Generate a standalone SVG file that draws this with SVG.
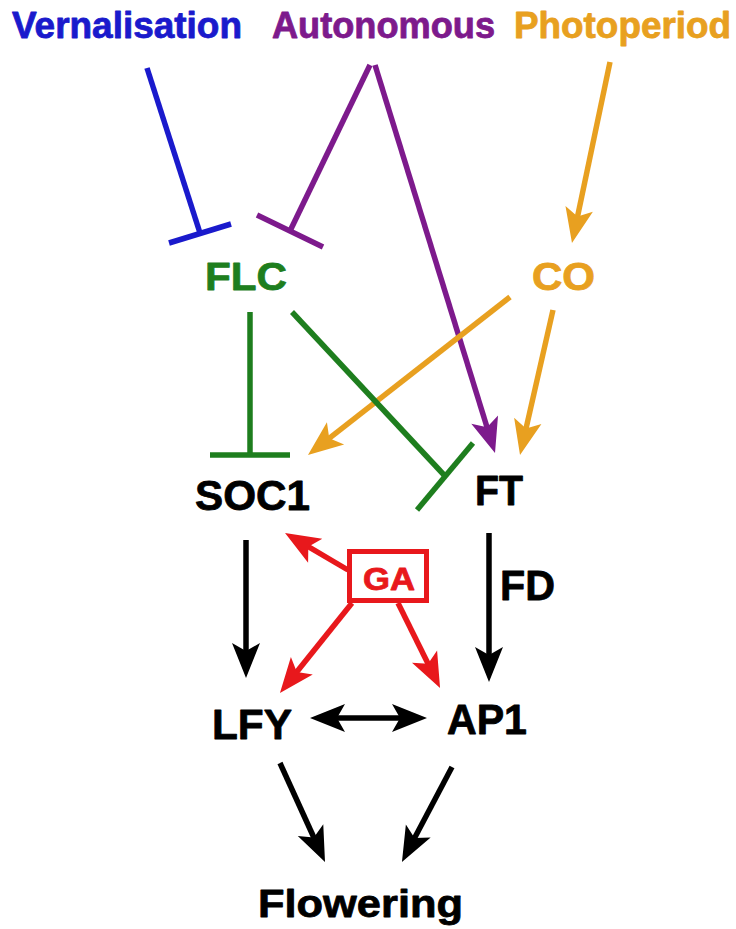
<svg xmlns="http://www.w3.org/2000/svg" width="736" height="929" viewBox="0 0 736 929">
  <style>
    text { font-family: "Liberation Sans", Arial, sans-serif; font-weight: bold; stroke-width: 0.8; stroke-linejoin: round; }
    .edge { fill: none; stroke-width: 5.5; stroke-linecap: butt; }
    .blue { stroke: #1a1acc; }
    .purple { stroke: #7d1a8c; }
    .orange { stroke: #e8a020; }
    .green { stroke: #1e7e1e; }
    .red { stroke: #e8181c; }
    .black { stroke: #000; }
  </style>
  <defs>
    <marker id="ah-purple" markerUnits="userSpaceOnUse" orient="auto" markerWidth="60" markerHeight="60" refX="0" refY="0" viewBox="-30 -30 60 60" overflow="visible">
      <path d="M22,0 L-13,-14 L-5,0 L-13,14 Z" fill="#7d1a8c"/>
    </marker>
    <marker id="ah-orange" markerUnits="userSpaceOnUse" orient="auto" markerWidth="60" markerHeight="60" refX="0" refY="0" viewBox="-30 -30 60 60" overflow="visible">
      <path d="M22,0 L-13,-14 L-5,0 L-13,14 Z" fill="#e8a020"/>
    </marker>
    <marker id="ah-red" markerUnits="userSpaceOnUse" orient="auto" markerWidth="60" markerHeight="60" refX="0" refY="0" viewBox="-30 -30 60 60" overflow="visible">
      <path d="M22,0 L-13,-14 L-5,0 L-13,14 Z" fill="#e8181c"/>
    </marker>
    <marker id="ah-black" markerUnits="userSpaceOnUse" orient="auto-start-reverse" markerWidth="60" markerHeight="60" refX="0" refY="0" viewBox="-30 -30 60 60" overflow="visible">
      <path d="M22,0 L-13,-14 L-5,0 L-13,14 Z" fill="#000"/>
    </marker>
  </defs>

  <rect width="736" height="929" fill="#fff"/>

  <!-- connectors -->
  <g id="connectors">
    <!-- Vernalisation -| FLC -->
    <line class="edge blue" x1="147" y1="68" x2="200" y2="233"/>
    <line class="edge blue" x1="169" y1="243" x2="231" y2="224"/>
    <!-- Autonomous -| FLC -->
    <line class="edge purple" x1="370" y1="65" x2="290" y2="231"/>
    <line class="edge purple" x1="257" y1="215" x2="323" y2="247"/>
    <!-- Autonomous -> FT -->
    <line class="edge purple" x1="375" y1="65" x2="488.5" y2="432" marker-end="url(#ah-purple)"/>
    <!-- Photoperiod -> CO -->
    <line class="edge orange" x1="610" y1="62" x2="576.5" y2="221.5" marker-end="url(#ah-orange)"/>
    <!-- CO -> SOC1 -->
    <line class="edge orange" x1="510" y1="297" x2="325.3" y2="441.4" marker-end="url(#ah-orange)"/>
    <!-- CO -> FT -->
    <line class="edge orange" x1="553" y1="310" x2="524.9" y2="433.5" marker-end="url(#ah-orange)"/>
    <!-- FLC -| SOC1 -->
    <line class="edge green" x1="250" y1="312" x2="250" y2="455"/>
    <line class="edge green" x1="210" y1="455" x2="290" y2="455"/>
    <!-- FLC -| FT -->
    <line class="edge green" x1="292" y1="312" x2="445" y2="476"/>
    <line class="edge green" x1="417" y1="510" x2="473" y2="443"/>
    <!-- SOC1 -> LFY -->
    <line class="edge black" x1="246" y1="540" x2="246" y2="656" marker-end="url(#ah-black)"/>
    <!-- FT -> AP1 (via FD) -->
    <line class="edge black" x1="489" y1="533" x2="489" y2="660" marker-end="url(#ah-black)"/>
    <!-- GA -> SOC1, LFY, AP1 -->
    <line class="edge red" x1="348" y1="570" x2="304" y2="544.1" marker-end="url(#ah-red)"/>
    <line class="edge red" x1="352" y1="603" x2="293.7" y2="675.8" marker-end="url(#ah-red)"/>
    <line class="edge red" x1="398" y1="603" x2="430.3" y2="668.3" marker-end="url(#ah-red)"/>
    <!-- LFY <-> AP1 -->
    <line class="edge black" x1="332" y1="718" x2="405" y2="718" marker-start="url(#ah-black)" marker-end="url(#ah-black)"/>
    <!-- LFY, AP1 -> Flowering -->
    <line class="edge black" x1="280" y1="763" x2="315.9" y2="842" marker-end="url(#ah-black)"/>
    <line class="edge black" x1="452" y1="767" x2="412.2" y2="842.5" marker-end="url(#ah-black)"/>
  </g>

  <!-- pathway inputs -->
  <g id="vernalisation">
    <text x="12" y="38" font-size="36" fill="#1a1acc" stroke="#1a1acc" textLength="230" lengthAdjust="spacingAndGlyphs">Vernalisation</text>
  </g>
  <g id="autonomous">
    <text x="272" y="38" font-size="36" fill="#7d1a8c" stroke="#7d1a8c" textLength="223" lengthAdjust="spacingAndGlyphs">Autonomous</text>
  </g>
  <g id="photoperiod">
    <text x="514" y="38" font-size="36" fill="#e8a020" stroke="#e8a020" textLength="217" lengthAdjust="spacingAndGlyphs">Photoperiod</text>
  </g>

  <!-- genes -->
  <g id="FLC">
    <text x="205" y="290" font-size="38" fill="#1e7e1e" stroke="#1e7e1e" textLength="82" lengthAdjust="spacingAndGlyphs">FLC</text>
  </g>
  <g id="CO">
    <text x="532" y="290" font-size="38" fill="#e8a020" stroke="#e8a020" textLength="63" lengthAdjust="spacingAndGlyphs">CO</text>
  </g>
  <g id="SOC1">
    <text x="195" y="510" font-size="43" fill="#000" stroke="#000" textLength="115" lengthAdjust="spacingAndGlyphs">SOC1</text>
  </g>
  <g id="FT">
    <text x="475" y="505" font-size="42" fill="#000" stroke="#000" textLength="48" lengthAdjust="spacingAndGlyphs">FT</text>
  </g>
  <g id="FD">
    <text x="500" y="600" font-size="43" fill="#000" stroke="#000" textLength="55" lengthAdjust="spacingAndGlyphs">FD</text>
  </g>
  <g id="GA">
    <rect x="349.5" y="551.5" width="77" height="49" fill="#fff" stroke="#e8181c" stroke-width="5"/>
    <text x="363" y="590" font-size="31" fill="#e8181c" stroke="#e8181c" textLength="52" lengthAdjust="spacingAndGlyphs">GA</text>
  </g>
  <g id="LFY">
    <text x="212" y="739" font-size="43" fill="#000" stroke="#000" textLength="80" lengthAdjust="spacingAndGlyphs">LFY</text>
  </g>
  <g id="AP1">
    <text x="447" y="734" font-size="43" fill="#000" stroke="#000" textLength="80" lengthAdjust="spacingAndGlyphs">AP1</text>
  </g>
  <g id="flowering">
    <text x="258" y="917" font-size="39" fill="#000" stroke="#000" textLength="205" lengthAdjust="spacingAndGlyphs">Flowering</text>
  </g>
</svg>
